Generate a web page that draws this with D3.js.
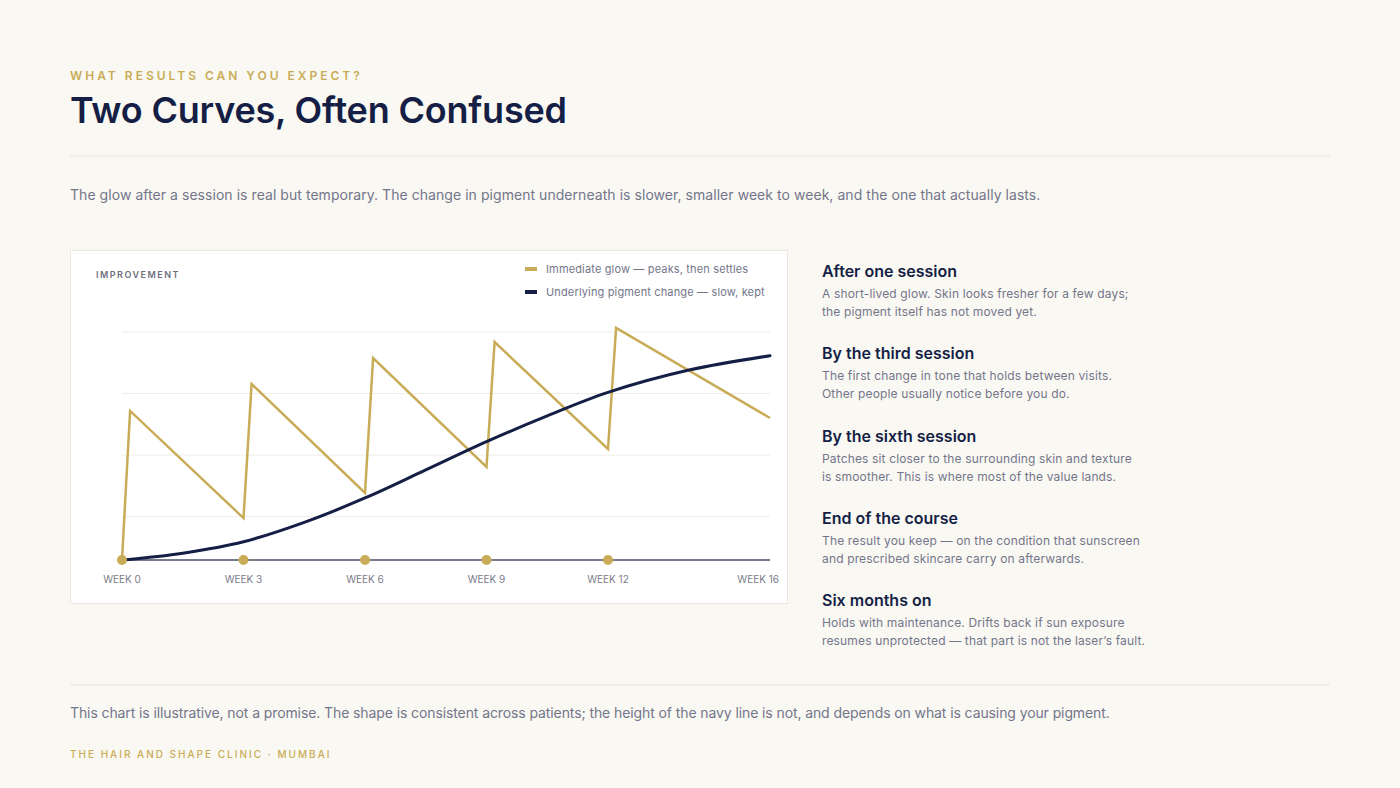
<!DOCTYPE html>
<html>
<head>
<meta charset="utf-8">
<script src="https://cdn.jsdelivr.net/npm/d3@7"></script>
<style>
  html, body { margin: 0; padding: 0; background: #faf8f3; }
  svg { display: block; font-family: 'Inter', 'Noto Sans', sans-serif; }
</style>
</head>
<body>
<div id="chart-area"></div>
<script>
// Data
const glowWeeks = [0, 0.2, 3, 3.2, 6, 6.2, 9, 9.2, 12, 12.2, 16];
const glowValues = [0, 65.4, 18.4, 77.2, 29.4, 88.6, 40.8, 95.6, 48.7, 101.8, 62.3];
const pigmentWeeks = [0, 1.5, 3, 4.5, 6, 7.5, 9, 10.5, 12, 14, 16];
const pigmentValues = [0, 3, 8, 16.5, 27.2, 39.5, 51.9, 63.2, 73.5, 83.3, 89.6];
const sessionWeeks = [0, 3, 6, 9, 12];
const tickWeeks = [0, 3, 6, 9, 12, 16];
const gridValues = [19, 46, 73, 100];
const legendLabels = ['Immediate glow — peaks, then settles', 'Underlying pigment change — slow, kept'];
const notes = [
  { title: 'After one session', lines: ['A short-lived glow. Skin looks fresher for a few days;', 'the pigment itself has not moved yet.'] },
  { title: 'By the third session', lines: ['The first change in tone that holds between visits.', 'Other people usually notice before you do.'] },
  { title: 'By the sixth session', lines: ['Patches sit closer to the surrounding skin and texture', 'is smoother. This is where most of the value lands.'] },
  { title: 'End of the course', lines: ['The result you keep — on the condition that sunscreen', 'and prescribed skincare carry on afterwards.'] },
  { title: 'Six months on', lines: ['Holds with maintenance. Drifts back if sun exposure', 'resumes unprotected — that part is not the laser\u2019s fault.'] }
];

const gold = '#c9ac57';
const navy = '#151f45';
const grey = '#73768a';

const svg = d3.select('#chart-area')
  .append('svg')
  .attr('width', 1400)
  .attr('height', 788);

svg.append('rect').attr('width', 1400).attr('height', 788).attr('fill', '#faf8f3');

// Header
svg.append('text')
  .attr('x', 70).attr('y', 80)
  .attr('fill', gold)
  .attr('font-size', 12)
  .attr('font-weight', 600)
  .attr('letter-spacing', 3)
  .text('WHAT RESULTS CAN YOU EXPECT?');

svg.append('text')
  .attr('x', 70).attr('y', 123)
  .attr('fill', navy)
  .attr('font-size', 36)
  .attr('font-weight', 600)
  .attr('letter-spacing', -0.2)
  .text('Two Curves, Often Confused');

svg.append('line')
  .attr('x1', 70).attr('x2', 1330).attr('y1', 156).attr('y2', 156)
  .attr('stroke', '#e9e5dc');

svg.append('text')
  .attr('x', 70).attr('y', 200)
  .attr('fill', grey)
  .attr('font-size', 14)
  .attr('letter-spacing', 0.05)
  .text('The glow after a session is real but temporary. The change in pigment underneath is slower, smaller week to week, and the one that actually lasts.');

// Chart panel
svg.append('rect')
  .attr('x', 70.5).attr('y', 250.5).attr('width', 717).attr('height', 353)
  .attr('fill', '#ffffff')
  .attr('stroke', '#ebe7de');

const xScale = d3.scaleLinear().domain([0, 16]).range([122, 770]);
const yScale = d3.scaleLinear().domain([0, 100]).range([560, 332]);

const plot = svg.append('g');

// Gridlines
plot.selectAll('.grid')
  .data(gridValues)
  .enter()
  .append('line')
  .attr('x1', xScale(0)).attr('x2', xScale(16))
  .attr('y1', d => yScale(d)).attr('y2', d => yScale(d))
  .attr('stroke', '#f0ede6');

// Baseline
plot.append('line')
  .attr('x1', xScale(0)).attr('x2', xScale(16))
  .attr('y1', yScale(0)).attr('y2', yScale(0))
  .attr('stroke', '#4a4f66')
  .attr('stroke-width', 1.5);

// X-Axis labels
plot.selectAll('.tick-label')
  .data(tickWeeks)
  .enter()
  .append('text')
  .attr('x', (d, i) => (i === tickWeeks.length - 1 ? xScale(d) + 9 : xScale(d)))
  .attr('y', 583)
  .attr('text-anchor', (d, i) => (i === tickWeeks.length - 1 ? 'end' : 'middle'))
  .attr('fill', '#7a7c8a')
  .attr('font-size', 10)
  .text(d => `WEEK ${d}`);

// Y-Axis label
svg.append('text')
  .attr('x', 96).attr('y', 278)
  .attr('fill', '#6e7080')
  .attr('font-size', 9)
  .attr('font-weight', 600)
  .attr('letter-spacing', 1.5)
  .text('IMPROVEMENT');

// Lines
const glowLine = d3.line()
  .x(i => xScale(glowWeeks[i]))
  .y(i => yScale(glowValues[i]));

const pigmentLine = d3.line()
  .x(i => xScale(pigmentWeeks[i]))
  .y(i => yScale(pigmentValues[i]))
  .curve(d3.curveCatmullRom.alpha(0.5));

plot.append('path')
  .attr('d', glowLine(d3.range(glowWeeks.length)))
  .attr('fill', 'none')
  .attr('stroke', gold)
  .attr('stroke-width', 2.5)
  .attr('stroke-linejoin', 'miter');

plot.append('path')
  .attr('d', pigmentLine(d3.range(pigmentWeeks.length)))
  .attr('fill', 'none')
  .attr('stroke', navy)
  .attr('stroke-width', 3)
  .attr('stroke-linecap', 'round');

// Session dots
plot.selectAll('circle')
  .data(sessionWeeks)
  .enter()
  .append('circle')
  .attr('cx', d => xScale(d))
  .attr('cy', yScale(0))
  .attr('r', 5)
  .attr('fill', gold);

// Legend
const legend = svg.append('g').attr('transform', 'translate(525, 269)');
const legendRows = legend.selectAll('g')
  .data(legendLabels)
  .enter()
  .append('g')
  .attr('transform', (d, i) => `translate(0,${i * 23})`);

legendRows.append('rect')
  .attr('y', -2)
  .attr('width', 12)
  .attr('height', 4)
  .attr('fill', (d, i) => (i === 0 ? gold : navy));

legendRows.append('text')
  .attr('x', 21)
  .attr('y', 4)
  .attr('fill', grey)
  .attr('font-size', 11)
  .attr('letter-spacing', 0.15)
  .text(d => d);

// Notes column
const noteRows = svg.selectAll('.note')
  .data(notes)
  .enter()
  .append('g')
  .attr('transform', (d, i) => `translate(822, ${277 + i * 82.3})`);

noteRows.append('text')
  .attr('fill', navy)
  .attr('font-size', 16)
  .attr('font-weight', 600)
  .text(d => d.title);

noteRows.selectAll('.line')
  .data(d => d.lines)
  .enter()
  .append('text')
  .attr('y', (d, i) => 21 + i * 18)
  .attr('fill', grey)
  .attr('font-size', 12)
  .attr('letter-spacing', 0.15)
  .text(d => d);

// Footer
svg.append('line')
  .attr('x1', 70).attr('x2', 1330).attr('y1', 685).attr('y2', 685)
  .attr('stroke', '#e9e5dc');

svg.append('text')
  .attr('x', 70).attr('y', 718)
  .attr('fill', grey)
  .attr('font-size', 14)
  .attr('letter-spacing', -0.1)
  .text('This chart is illustrative, not a promise. The shape is consistent across patients; the height of the navy line is not, and depends on what is causing your pigment.');

svg.append('text')
  .attr('x', 70).attr('y', 758)
  .attr('fill', gold)
  .attr('font-size', 10)
  .attr('font-weight', 500)
  .attr('letter-spacing', 2)
  .text('THE HAIR AND SHAPE CLINIC \u00b7 MUMBAI');
</script>
</body>
</html>
